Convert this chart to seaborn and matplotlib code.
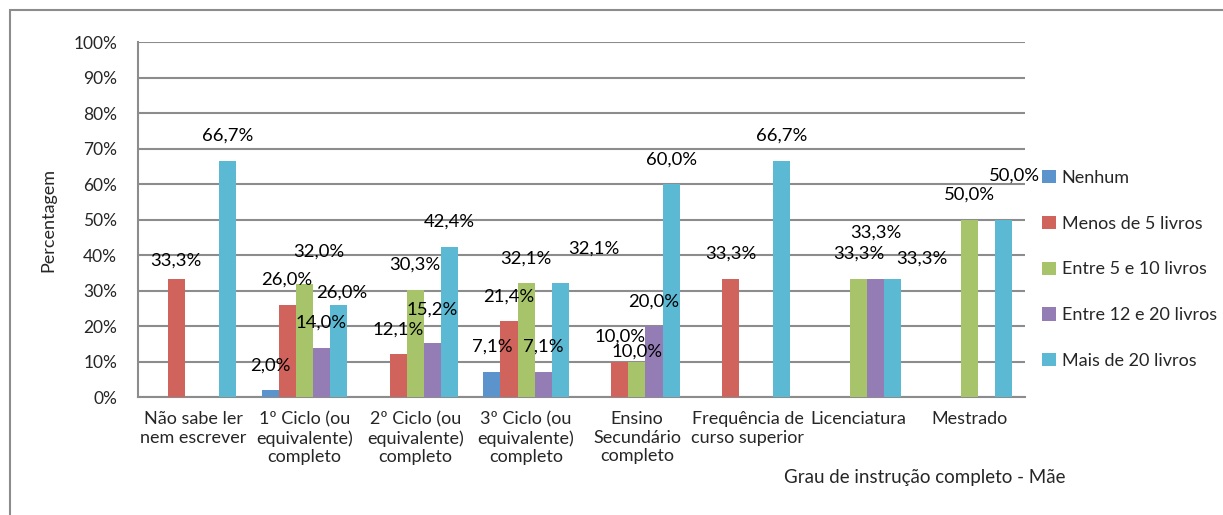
import numpy as np
import pandas as pd
import matplotlib
matplotlib.use("Agg")
import matplotlib.pyplot as plt
import matplotlib.patches as mpatches
import seaborn as sns

# --- dados ---
categorias = ["Não sabe ler\nnem escrever",
              "1º Ciclo (ou\nequivalente)\ncompleto",
              "2º Ciclo (ou\nequivalente)\ncompleto",
              "3º Ciclo (ou\nequivalente)\ncompleto",
              "Ensino\nSecundário\ncompleto",
              "Frequência de\ncurso superior",
              "Licenciatura",
              "Mestrado"]
series = ["Nenhum", "Menos de 5 livros", "Entre 5 e 10 livros",
          "Entre 12 e 20 livros", "Mais de 20 livros"]
nenhum = [0, 2.0, 0, 7.1, 0, 0, 0, 0]
menos_5 = [33.3, 26.0, 12.1, 21.4, 10.0, 33.3, 0, 0]
entre_5_10 = [0, 32.0, 30.3, 32.1, 10.0, 0, 33.3, 50.0]
entre_12_20 = [0, 14.0, 15.2, 7.1, 20.0, 0, 33.3, 0]
mais_20 = [66.7, 26.0, 42.4, 32.1, 60.0, 66.7, 33.3, 50.0]
cores = ["#5B93CD", "#D0645D", "#A8C46A", "#937DB4", "#5BB9D3"]

valores = [nenhum, menos_5, entre_5_10, entre_12_20, mais_20]
df = pd.DataFrame({
    "categoria": np.tile(categorias, len(series)),
    "serie": np.repeat(series, len(categorias)),
    "valor": np.concatenate(valores),
})

# deslocamentos manuais dos rotulos (pixels) - como no original
ajustes = {(0, 1): (0, 18), (1, 2): (15, 32), (1, 4): (3, 12),
           (2, 3): (0, 34), (3, 4): (34, 35), (4, 2): (0, 10),
           (6, 3): (0, 46), (6, 4): (29, 20), (7, 4): (11, 44)}

sns.set_style("white")
plt.rcParams["font.family"] = ["Lato", "DejaVu Sans"]
cinza = "#8C8C8C"
fs = 13

fig = plt.figure(figsize=(12.23, 5.15), dpi=100)
ax = fig.add_axes([138 / 1223, 1 - 397.3 / 515, (1025 - 138) / 1223, (397.3 - 42.3) / 515])

sns.barplot(data=df, x="categoria", y="valor", hue="serie", order=categorias,
            hue_order=series, palette=cores, width=0.77, gap=0, saturation=1,
            linewidth=0, ax=ax, zorder=3)

# rotulos de dados
for s, cont in enumerate(ax.containers):
    for c, bar in enumerate(cont):
        v = bar.get_height()
        if v <= 0:
            continue
        dx, dy = ajustes.get((c, s), (0, 25))
        ax.annotate(f"{v:.1f}%".replace(".", ","),
                    (bar.get_x() + bar.get_width() / 2, v),
                    xytext=(dx, dy), textcoords="offset pixels",
                    ha="center", va="center", fontsize=fs + 0.3, color="black", zorder=5)

ax.set_ylim(0, 100)
ax.set_xlim(-0.5, len(categorias) - 0.5)
ax.set_yticks(np.arange(0, 101, 10))
ax.set_yticklabels([f"{t}%" for t in range(0, 101, 10)])
ax.yaxis.grid(True, color=cinza, linewidth=1.5, zorder=0)
ax.set_axisbelow(True)
ax.tick_params(axis="y", length=6, width=1.5, color=cinza, pad=9, labelsize=fs - 0.5)
ax.set_xticks(np.arange(len(categorias)), labels=categorias)
ax.tick_params(axis="x", which="major", length=0, pad=10, labelsize=fs)
ax.set_xticks(np.arange(-0.5, len(categorias)), minor=True)
ax.tick_params(axis="x", which="minor", length=6, width=1.5, color=cinza)
for lbl in ax.get_xticklabels():
    lbl.set_linespacing(1.2)
for side in ["top", "right"]:
    ax.spines[side].set_visible(False)
for side in ["left", "bottom"]:
    ax.spines[side].set_color(cinza)
    ax.spines[side].set_linewidth(1.5)

ax.set_xlabel("")
ax.set_ylabel("Percentagem", fontsize=fs, labelpad=12)

ax.legend(loc="center left", bbox_to_anchor=(1.009, 0.36), frameon=False,
          fontsize=fs, handlelength=0.75, handleheight=0.75,
          handletextpad=0.35, labelspacing=1.65, borderaxespad=0.1)

fig.text(925 / 1223, 1 - 478 / 515, "Grau de instrução completo - Mãe",
         ha="center", va="center", fontsize=fs + 0.5)

# moldura do grafico
fig.patches.append(mpatches.Rectangle((10 / 1223, -0.05), 1.05, 1 - 10 / 515 + 0.05,
                                      transform=fig.transFigure, fill=False,
                                      edgecolor=cinza, linewidth=1.5))

fig.savefig("out.png", dpi=100)
